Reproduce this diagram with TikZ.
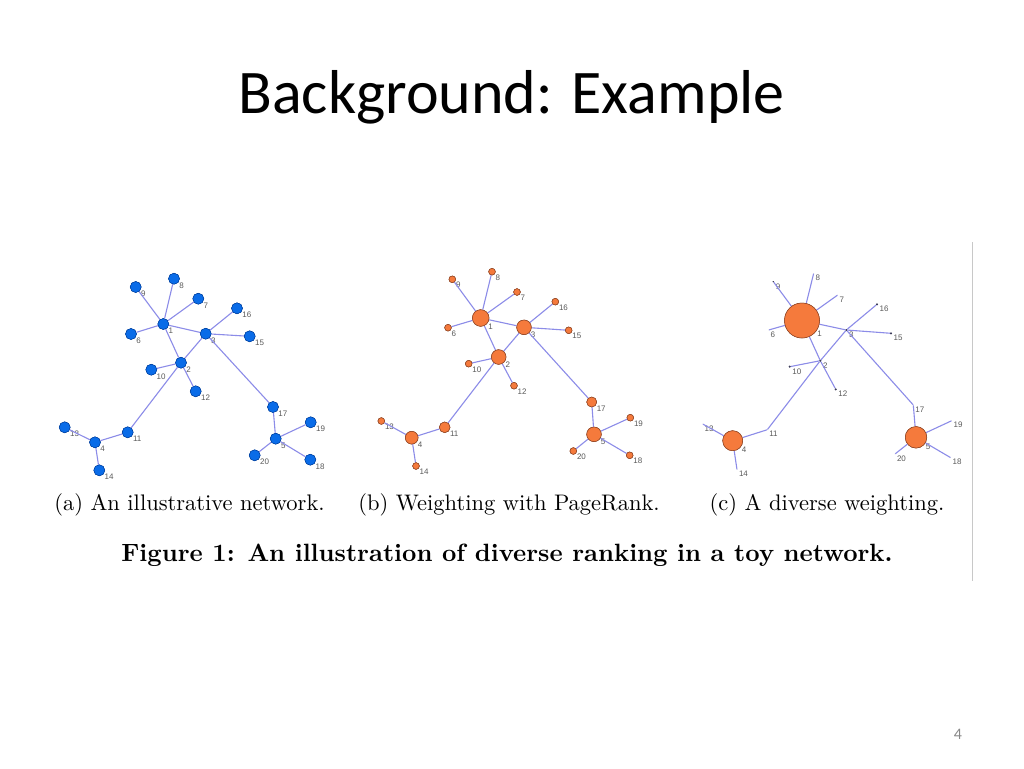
\documentclass[tikz,border=0pt]{standalone}
\usepackage{fontspec}
\newfontfamily\calibri{Carlito}
\newfontfamily\arialf{Liberation Sans}
\newfontfamily\cmten{lmroman10-regular.otf}[BoldFont=lmroman10-bold.otf]
\definecolor{edgec}{RGB}{140,140,232}
\definecolor{bluef}{RGB}{10,108,232}
\definecolor{bluel}{RGB}{0,60,150}
\definecolor{orf}{RGB}{245,122,60}
\definecolor{orl}{RGB}{140,70,40}
\definecolor{lblc}{RGB}{90,90,90}
\definecolor{dotc}{RGB}{60,60,90}
\definecolor{rulec}{RGB}{200,200,200}
\begin{document}
\begin{tikzpicture}[x=1pt,y=-1pt,
  edge/.style={draw=edgec,line width=1.1pt},
  lbl/.style={font=\arialf\fontsize{8}{8}\selectfont,text=lblc,inner sep=0.3pt},
  bnode/.style={circle,fill=bluef,draw=bluel,line width=0.4pt,minimum size=11pt,inner sep=0pt},
  onode/.style={circle,fill=orf,draw=orl,line width=0.5pt,minimum size=#1,inner sep=0pt},
  cdot/.style={circle,fill=dotc,minimum size=#1,inner sep=0pt},
  caption/.style={font=\cmten\fontsize{22.5}{22.5}\selectfont,anchor=base},
]
\useasboundingbox (0,0) rectangle (1024,768);
\fill[white] (0,0) rectangle (1024,768);

% title
\node[font=\calibri\fontsize{62}{62}\selectfont,anchor=base] (title) at (511.5,113) {Background: Example};

% ---------------- graph (a)
\foreach \n/\x/\y in {1/163.3/324,2/181/362.7,3/205.7/333.7,4/95/442.3,5/275.7/438.7,
  6/131/334,7/198.3/298.7,8/174/278.7,9/135.7/287,10/151.3/369.7,11/127.7/432.3,
  12/195.7/391.3,13/64.7/427.3,14/99.3/470.3,15/249.7/336.3,16/237/308.3,
  17/273/407,18/310.3/459.7,19/310.7/422.3,20/254.7/455.3}
  \node[bnode,label={[lbl,label distance=0.3pt]-35:\n}] (a\n) at (\x,\y) {};

% ---------------- graph (b)
\foreach \n/\x/\y/\s in {1/480.7/318/16.6,2/498.7/357/14.6,3/524/327.3/14.6,4/411.7/437.7/12.7,
  5/594/434.3/14.6,6/448/327.7/6.7,7/517/292/6.7,8/492/271.7/6.7,9/452.3/279.3/6.7,
  10/468.7/363.7/6.7,11/444.7/427.3/10.7,12/514/385.7/6.7,13/381.3/421/6.7,
  14/416/466/6.7,15/568.7/330.3/6.7,16/555.3/301.7/6.7,17/591.7/402/10,
  18/629.7/455.3/6.7,19/630.3/417.7/6.7,20/573.3/451/6.7}
  \node[onode=\s pt,label={[lbl,label distance=0.3pt]-35:\n}] (b\n) at (\x,\y) {};

% ---------------- graph (c)
\foreach \n/\x/\y/\s in {1/802/320.5/35,4/732.7/440.7/20,5/916/437.3/21.5}
  \node[onode=\s pt,label={[lbl,label distance=0.3pt]-35:\n}] (c\n) at (\x,\y) {};
\foreach \n/\x/\y/\s in {2/820.3/360.7/2,3/846.3/330/2,9/773.3/281.7/1.4,10/789.7/366.7/2,
  12/835.7/389.3/2,15/891/333.3/2,16/877/304.3/2,
  6/768.7/330/0.3,7/837.7/295/0.3,8/813.7/273.3/0.3,11/767.3/429.7/0.3,
  13/702.7/424/0.3,14/737/469.7/0.3,17/913.3/405/0.3,18/950.7/457.7/0.3,
  19/951.7/420.7/0.3,20/895/454/0.3}
  \node[cdot=\s pt,label={[lbl,label distance=1.5pt]-35:\n}] (c\n) at (\x,\y) {};

% edges for all three graphs
\foreach \g in {a,b,c}{
  \foreach \u/\v in {1/9,1/8,1/7,1/6,1/3,1/2,2/3,2/10,2/12,2/11,3/16,3/15,3/17,
    17/5,5/19,5/18,5/20,11/4,4/13,4/14}
    \draw[edge] (\g\u) -- (\g\v);
}
% redraw nodes on top of edges
\foreach \n/\x/\y in {1/163.3/324,2/181/362.7,3/205.7/333.7,4/95/442.3,5/275.7/438.7,
  6/131/334,7/198.3/298.7,8/174/278.7,9/135.7/287,10/151.3/369.7,11/127.7/432.3,
  12/195.7/391.3,13/64.7/427.3,14/99.3/470.3,15/249.7/336.3,16/237/308.3,
  17/273/407,18/310.3/459.7,19/310.7/422.3,20/254.7/455.3}
  \node[bnode] at (\x,\y) {};
\foreach \n/\x/\y/\s in {1/480.7/318/16.6,2/498.7/357/14.6,3/524/327.3/14.6,4/411.7/437.7/12.7,
  5/594/434.3/14.6,6/448/327.7/6.7,7/517/292/6.7,8/492/271.7/6.7,9/452.3/279.3/6.7,
  10/468.7/363.7/6.7,11/444.7/427.3/10.7,12/514/385.7/6.7,13/381.3/421/6.7,
  14/416/466/6.7,15/568.7/330.3/6.7,16/555.3/301.7/6.7,17/591.7/402/10,
  18/629.7/455.3/6.7,19/630.3/417.7/6.7,20/573.3/451/6.7}
  \node[onode=\s pt] at (\x,\y) {};
\foreach \n/\x/\y/\s in {1/802/320.5/35,4/732.7/440.7/20,5/916/437.3/21.5}
  \node[onode=\s pt] at (\x,\y) {};
\foreach \n/\x/\y/\s in {2/820.3/360.7/2,3/846.3/330/2,9/773.3/281.7/1.4,10/789.7/366.7/2,
  12/835.7/389.3/2,15/891/333.3/2,16/877/304.3/2}
  \node[cdot=\s pt] at (\x,\y) {};

% captions
\node[caption] (capa) at (189.5,510) {(a) An illustrative network.};
\node[caption] (capb) at (509,510) {(b) Weighting with PageRank.};
\node[caption] (capc) at (827,510) {(c) A diverse weighting.};
\node[font=\cmten\bfseries\fontsize{25}{25}\selectfont,anchor=base] (fig) at (507,561)
  {Figure 1: An illustration of diverse ranking in a toy network.};

% rule at right
\coordinate (rt) at (972,242);
\coordinate (rb) at (972,581);
\draw[rulec,line width=0.8pt] (rt) -- (rb);

% page number
\node[font=\calibri\fontsize{16}{16}\selectfont,text={rgb,255:red,137;green,137;blue,137},anchor=base] (pn) at (958,739) {4};
\end{tikzpicture}
\end{document}
